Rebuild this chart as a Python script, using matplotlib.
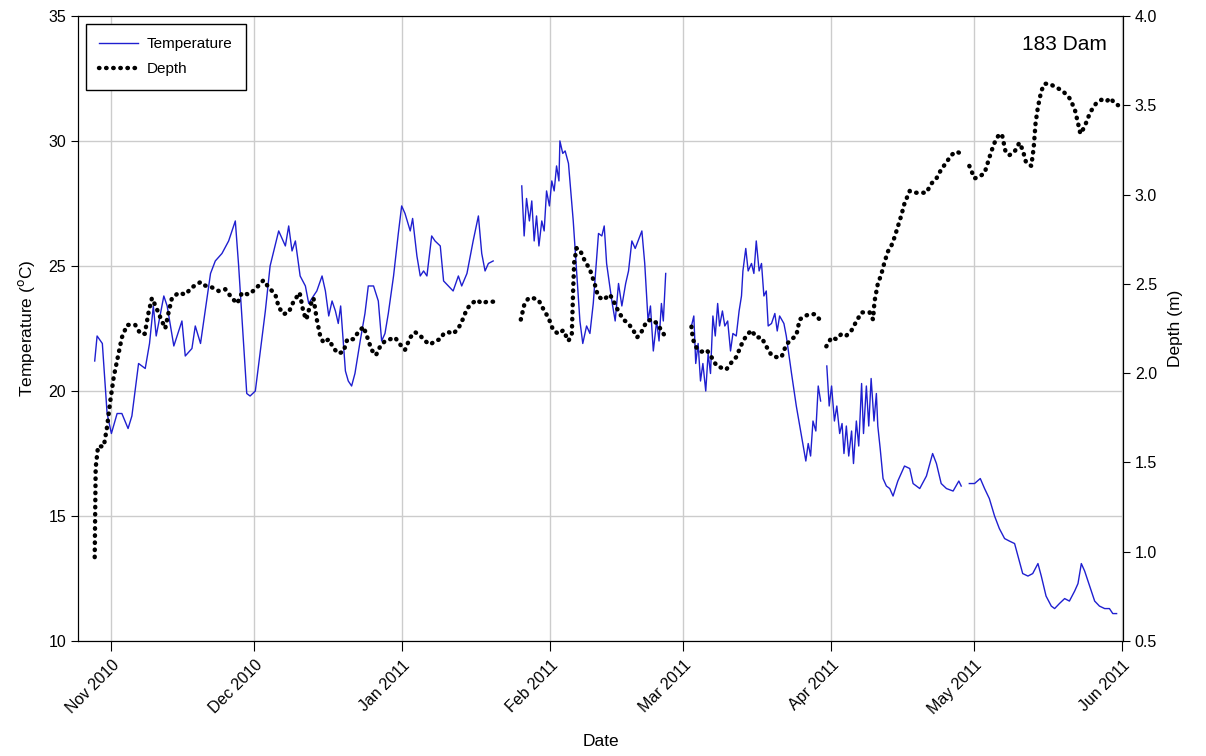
import numpy as np
import matplotlib
matplotlib.use("Agg")
import matplotlib.pyplot as plt
import matplotlib.dates as mdates
from matplotlib.lines import Line2D

plt.rcParams['font.family'] = ['Liberation Sans', 'DejaVu Sans']

# day offsets from 1 Nov 2010, nan marks a logger gap
temp_days = [-3.5, -3.0, -1.9, -0.9, 0.0, 1.2, 2.2, 3.5, 4.3, 5.7, 7.1, 8.0, 8.8, 9.4, 11.0, 11.7,
             13.1, 14.8, 15.5, 16.9, 17.6, 18.7, 19.3, 20.8, 21.8, 23.2, 24.6, 26.0, 26.7, 28.4,
             29.1, 30.2, 32.3, 33.3, 35.1, 36.5, 37.2, 37.9, 38.6, 39.6, 40.7, 41.4, 42.4, 43.1,
             44.2, 44.9, 45.6, 46.3, 47.0, 47.6, 48.1, 49.1, 49.7, 50.4, 51.1, 52.2, 53.2, 53.9,
             55.0, 56.0, 56.7, 57.4, 58.1, 59.2, 60.2, 60.9, 61.6, 62.7, 63.2, 64.1, 64.8, 65.5,
             66.2, 67.2, 67.9, 69.0, 69.7, 70.7, 71.7, 72.8, 73.5, 74.6, 75.9, 77.0, 77.7, 78.4,
             79.1, 80.1, 83.0,
             86.1, 86.6, 87.1, 87.7, 88.2, 88.7, 89.2, 89.7, 90.3, 90.8, 91.3, 91.9, 92.4, 92.9,
             93.4, 93.9, 94.1, 94.7, 95.2, 95.9, 96.9, 97.6, 98.3, 98.9, 99.7, 100.4, 101.1, 102.2,
             102.9, 103.4, 103.9, 105.0, 105.7, 106.4, 107.1, 107.9, 108.5, 109.2, 109.9, 110.5,
             111.3, 111.9, 112.6, 113.1, 113.7, 114.4, 114.9, 115.4, 115.8, 116.3, 119.0,
             121.7, 122.2, 122.6, 123.1, 123.6, 124.1, 124.7, 125.2, 125.7, 126.2, 126.7, 127.2,
             127.6, 128.2, 128.7, 129.3, 129.9, 130.4, 131.1, 131.7, 132.2, 132.5, 133.1, 133.6,
             134.3, 134.8, 135.3, 135.9, 136.4, 136.9, 137.4, 137.8, 138.5, 139.2, 139.7, 140.2,
             141.1, 141.6, 142.7, 143.7, 144.8, 145.7, 146.2, 146.7, 147.2, 147.8, 148.3, 148.8, 149.4,
             150.1, 150.6, 151.1, 151.7, 152.2, 152.8, 153.3, 153.7, 154.2, 154.7, 155.3, 155.7,
             156.3, 156.8, 157.4, 157.8, 158.4, 158.9, 159.4, 160.0, 160.5, 160.8, 161.3, 161.9,
             162.6, 163.3, 164.0, 165.0, 166.4, 167.5, 168.2, 169.6, 171.0, 172.3, 173.1, 174.1,
             175.2, 176.6, 177.2, 177.8, 178.3, 179.2,
             180.0, 181.1, 182.3, 183.2, 184.2, 185.3, 186.3, 187.4, 188.4, 189.5, 190.2, 191.2,
             192.3, 193.3, 194.4, 195.1, 196.1, 197.2, 197.9, 198.9, 200.0, 201.0, 202.1, 202.8,
             203.5, 204.2, 204.9, 205.6, 206.3, 207.3, 208.4, 209.4, 210.1, 210.9]
temp_vals = [21.2, 22.2, 21.9, 19.1, 18.3, 19.1, 19.1, 18.5, 19.0, 21.1, 20.9, 21.9, 23.4, 22.2, 23.8, 23.4,
             21.8, 22.8, 21.4, 21.7, 22.6, 21.9, 22.7, 24.7, 25.2, 25.5, 26.0, 26.8, 25.0, 19.9,
             19.8, 20.0, 23.2, 25.0, 26.4, 25.8, 26.6, 25.6, 26.0, 24.6, 24.2, 23.5, 23.8, 24.0,
             24.6, 24.0, 23.0, 23.6, 23.2, 22.7, 23.4, 20.8, 20.4, 20.2, 20.7, 22.0, 23.1, 24.2,
             24.2, 23.6, 22.0, 22.3, 23.1, 24.6, 26.3, 27.4, 27.1, 26.4, 26.9, 25.4, 24.6, 24.8,
             24.6, 26.2, 26.0, 25.8, 24.4, 24.2, 24.0, 24.6, 24.2, 24.7, 26.0, 27.0, 25.5, 24.8,
             25.1, 25.2, np.nan,
             28.2, 26.2, 27.7, 26.8, 27.6, 26.0, 27.0, 25.8, 26.8, 26.4, 28.0, 27.4, 28.4, 28.0,
             29.0, 28.4, 30.0, 29.5, 29.6, 29.1, 26.8, 24.8, 22.8, 21.9, 22.6, 22.3, 23.5, 26.3,
             26.2, 26.6, 25.1, 23.6, 22.8, 24.3, 23.4, 24.3, 24.8, 26.0, 25.7, 26.0,
             26.4, 25.1, 22.8, 23.4, 21.6, 22.8, 22.0, 23.5, 22.8, 24.7, np.nan,
             22.6, 23.0, 21.1, 21.9, 20.4, 21.1, 20.0, 21.5, 20.7, 23.0, 22.2, 23.5,
             22.6, 23.2, 22.6, 22.8, 21.6, 22.3, 22.2, 23.2, 23.8, 24.8, 25.7, 24.8,
             25.1, 24.7, 26.0, 24.8, 25.1, 23.8, 24.0, 22.6, 22.7, 23.1, 22.4, 23.0,
             22.7, 22.2, 20.7, 19.4, 18.2, 17.2, 17.9, 17.4, 18.8, 18.4, 20.2, 19.6, np.nan,
             21.0, 19.4, 20.2, 18.8, 19.4, 18.3, 18.7, 17.5, 18.6, 17.4, 18.4, 17.1,
             18.8, 17.8, 20.3, 18.3, 20.2, 18.6, 20.5, 18.8, 19.9, 18.6, 17.7, 16.5,
             16.2, 16.1, 15.8, 16.4, 17.0, 16.9, 16.3, 16.1, 16.6, 17.5, 17.1, 16.3,
             16.1, 16.0, 16.2, 16.4, 16.2, np.nan,
             16.3, 16.3, 16.5, 16.1, 15.7, 15.0, 14.5, 14.1, 14.0, 13.9, 13.4, 12.7,
             12.6, 12.7, 13.1, 12.6, 11.8, 11.4, 11.3, 11.5, 11.7, 11.6, 12.0, 12.3,
             13.1, 12.8, 12.4, 12.0, 11.6, 11.4, 11.3, 11.3, 11.1, 11.1]

depth_days = [-3.5, -3.4, -3.3, -2.8, -1.6, -0.9, -0.2, 0.5, 1.2, 2.2, 3.3, 5.0, 6.1, 7.0, 7.8, 8.5,
              9.2, 10.3, 11.3, 12.0, 12.7, 14.1, 15.5, 16.9, 18.7, 19.7, 21.1, 22.5, 23.9, 25.3,
              26.4, 27.4, 28.8, 30.2, 31.9, 33.0, 34.4, 35.1, 36.1, 37.2, 38.2, 39.5, 40.3, 40.9,
              41.6, 42.4, 43.1, 43.8, 44.5, 45.6, 46.6, 47.6, 48.7, 49.5, 50.8, 51.8, 52.9, 53.7,
              54.6, 55.5, 56.4, 57.4, 58.5, 59.5, 60.6, 61.6, 62.7, 63.7, 64.8, 65.8, 66.9, 67.9,
              69.0, 69.7, 70.7, 71.7, 72.8, 73.7, 74.6, 75.6, 76.7, 77.7, 78.8, 80.1, 83.0,
              85.9, 86.6, 87.5, 88.5, 89.6, 90.6, 91.7, 92.7, 93.8, 94.8, 95.9, 96.6, 96.9, 97.1,
              97.6, 98.3, 99.3, 100.4, 101.4, 102.1, 103.2, 104.6, 105.6, 106.3, 107.4, 108.4,
              109.5, 110.3, 111.2, 112.3, 113.3, 114.4, 115.4, 116.3, 119.0,
              121.7, 122.0, 122.8, 123.8, 124.9, 125.9, 127.0, 128.0, 129.0, 130.1, 131.1, 132.2,
              133.2, 134.3, 135.3, 136.4, 137.4, 138.5, 139.5, 140.6, 141.6, 142.7, 143.7, 144.4,
              145.5, 146.5, 147.6, 148.6, 149.3,
              150.0, 151.1, 152.1, 153.2, 154.2, 155.3, 156.3, 157.4, 158.4, 159.1, 159.8, 160.1,
              160.8, 161.5, 162.2, 162.9, 163.6, 164.3, 165.0, 165.7, 166.4, 167.5, 168.5, 169.6,
              171.0, 172.0, 173.1, 174.1, 175.2, 176.2, 177.2, 178.3, 179.2,
              180.0, 181.1, 182.1, 183.2, 183.9, 184.6, 185.3, 186.3, 186.9, 187.6, 188.4, 189.5,
              190.5, 191.2, 191.9, 193.0, 193.5, 193.9, 194.4, 195.1, 195.8, 196.8, 198.2, 199.6,
              201.0, 202.1, 202.8, 203.3, 204.2, 204.9, 205.6, 206.6, 207.7, 208.7, 209.6, 210.5, 211.2]
depth_vals = [0.97, 1.20, 1.47, 1.59, 1.59, 1.70, 1.85, 1.98, 2.07, 2.20, 2.27, 2.27, 2.22, 2.22, 2.34, 2.42,
              2.38, 2.31, 2.25, 2.34, 2.42, 2.45, 2.44, 2.48, 2.51, 2.49, 2.48, 2.46, 2.47, 2.42,
              2.39, 2.45, 2.44, 2.47, 2.52, 2.48, 2.44, 2.37, 2.33, 2.34, 2.40, 2.45, 2.34, 2.30,
              2.37, 2.42, 2.30, 2.21, 2.17, 2.19, 2.14, 2.11, 2.12, 2.19, 2.19, 2.23, 2.26, 2.20,
              2.13, 2.10, 2.15, 2.18, 2.19, 2.20, 2.16, 2.13, 2.20, 2.23, 2.21, 2.18, 2.16, 2.18,
              2.19, 2.22, 2.23, 2.22, 2.25, 2.30, 2.36, 2.39, 2.41, 2.39, 2.40, 2.40, np.nan,
              2.30, 2.38, 2.42, 2.42, 2.41, 2.36, 2.31, 2.24, 2.22, 2.24, 2.18, 2.22, 2.48, 2.62,
              2.70, 2.69, 2.63, 2.58, 2.50, 2.43, 2.41, 2.44, 2.39, 2.35, 2.30, 2.28,
              2.24, 2.20, 2.23, 2.29, 2.30, 2.28, 2.24, 2.20, np.nan,
              2.26, 2.19, 2.14, 2.12, 2.13, 2.09, 2.04, 2.03, 2.02, 2.06, 2.09, 2.16,
              2.21, 2.24, 2.20, 2.20, 2.15, 2.10, 2.09, 2.09, 2.16, 2.19, 2.21, 2.30,
              2.32, 2.33, 2.33, 2.30, np.nan,
              2.15, 2.20, 2.19, 2.22, 2.21, 2.24, 2.29, 2.34, 2.34, 2.34, 2.30, 2.40,
              2.50, 2.55, 2.62, 2.68, 2.71, 2.76, 2.82, 2.88, 2.95, 3.02, 3.01, 3.01,
              3.01, 3.06, 3.09, 3.14, 3.18, 3.22, 3.24, 3.23, np.nan,
              3.16, 3.09, 3.10, 3.12, 3.18, 3.24, 3.29, 3.34, 3.33, 3.24, 3.22, 3.24,
              3.29, 3.25, 3.18, 3.16, 3.26, 3.40, 3.49, 3.58, 3.62, 3.62, 3.60, 3.58,
              3.54, 3.48, 3.40, 3.34, 3.38, 3.43, 3.47, 3.51, 3.53, 3.52, 3.54, 3.51, 3.50]

base = np.datetime64('2010-11-01T00:00')
def to_dates(days):
    return base + (np.array(days) * 24 * 60).astype(int).astype('timedelta64[m]')

temp_x = to_dates(temp_days)
depth_x = to_dates(depth_days)

blue = '#1f1fd0'
dot_style = (0, (0.1, 1.5))

fig = plt.figure(figsize=(12.06, 7.56), dpi=100)
ax = fig.add_axes([0.0647, 0.152, 0.8665, 0.827])
ax2 = ax.twinx()

ax.plot(temp_x, temp_vals, color=blue, lw=1.0)
ax2.plot(depth_x, depth_vals, color='black', lw=3.2, linestyle=dot_style, dash_capstyle='round')

ax.set_xlim(np.datetime64('2010-10-25T00:00'), np.datetime64('2011-06-01T06:00'))
ax.set_ylim(10, 35)
ax2.set_ylim(0.5, 4.0)

ax.xaxis.set_major_locator(mdates.MonthLocator())
ax.xaxis.set_major_formatter(mdates.DateFormatter('%b %Y'))
ax.set_yticks([10, 15, 20, 25, 30, 35])
ax2.set_yticks(np.arange(0.5, 4.01, 0.5))
ax2.set_yticklabels(['%.1f' % v for v in np.arange(0.5, 4.01, 0.5)])

for lab in ax.get_xticklabels():
    lab.set_rotation(45)
    lab.set_ha('right')
    lab.set_rotation_mode('anchor')

ax.grid(True, color='#cccccc', lw=1.0)
ax.set_axisbelow(True)
ax.tick_params(axis='x', length=7, labelsize=11.5, pad=5)
ax.tick_params(axis='y', length=5, labelsize=11.5)
ax2.tick_params(axis='y', length=5, labelsize=11.5)

ax.set_xlabel('Date', fontsize=12.5, labelpad=12)
ax.set_ylabel('Temperature ($^{\\mathrm{o}}$C)', fontsize=12.5, labelpad=8)
ax2.set_ylabel('Depth (m)', fontsize=12.5, labelpad=8)

ax2.text(0.985, 0.97, '183 Dam', transform=ax2.transAxes, ha='right', va='top', fontsize=15)

handles = [Line2D([], [], color=blue, lw=1.0),
           Line2D([], [], color='black', lw=3.2, linestyle=dot_style, dash_capstyle='round')]
leg = ax2.legend(handles, ['Temperature', 'Depth'], loc='upper left', fontsize=11,
                 fancybox=False, edgecolor='black', framealpha=1, handlelength=2.5,
                 handletextpad=0.6, borderaxespad=0.5, borderpad=0.9, labelspacing=0.7)
leg.get_frame().set_linewidth(1.0)

plt.savefig('out.png', dpi=100)
